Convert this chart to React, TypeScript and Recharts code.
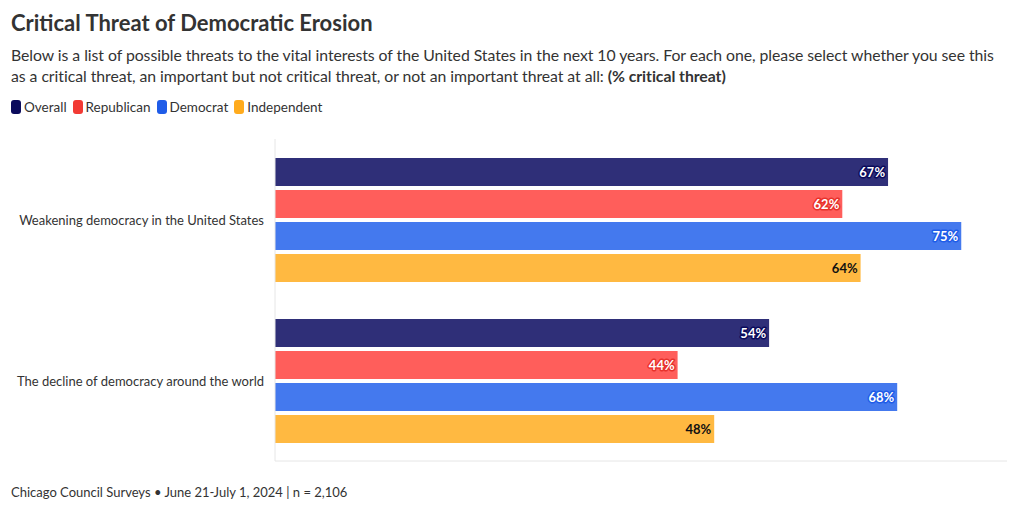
import { Bar, BarChart, LabelList, XAxis, YAxis } from "recharts";

const categories = [
  "Weakening democracy in the United States",
  "The decline of democracy around the world",
];
const overall = [67, 54];
const republican = [62, 44];
const democrat = [75, 68];
const independent = [64, 48];

const series = [
  { key: "overall", name: "Overall", fill: "#2f2f78", swatch: "#0b0b5c", text: "#fff", halo: "#0b0b5c" },
  { key: "republican", name: "Republican", fill: "#ff5e5b", swatch: "#f23a34", text: "#fff", halo: "#e8322c" },
  { key: "democrat", name: "Democrat", fill: "#4479ee", swatch: "#1f5ce8", text: "#fff", halo: "#1f5ce8" },
  { key: "independent", name: "Independent", fill: "#ffb941", swatch: "#ffab1d", text: "#111", halo: "none" },
];

const data = categories.map((name, i) => ({
  name,
  overall: overall[i],
  republican: republican[i],
  democrat: democrat[i],
  independent: independent[i],
}));

const font = "'Source Sans Pro', Lato, 'Noto Sans', sans-serif";

function makeLabel(text: string, halo: string) {
  return (props: any) => {
    const { x, y, width, height, value } = props;
    return (
      <text
        x={x + width - 3}
        y={y + height / 2}
        textAnchor="end"
        dominantBaseline="central"
        fontFamily={font}
        fontSize={13}
        fontWeight={700}
        fill={text}
        stroke={halo}
        strokeWidth={halo === "none" ? 0 : 3}
        strokeLinejoin="round"
        paintOrder="stroke"
      >
        {value}%
      </text>
    );
  };
}

function CategoryTick(props: any) {
  const { x, y, payload } = props;
  return (
    <text
      x={x}
      y={y}
      textAnchor="end"
      dominantBaseline="central"
      fontFamily={font}
      fontSize={13}
      fill="#333"
    >
      {payload.value}
    </text>
  );
}

export default function App() {
  return (
    <div
      style={{
        position: "fixed",
        left: 0,
        top: 0,
        width: 1020,
        height: 511,
        background: "#fff",
        fontFamily: font,
        color: "#333",
        overflow: "hidden",
      }}
    >
      <div style={{ position: "absolute", left: 11, top: 9, fontSize: 22, fontWeight: 700, whiteSpace: "nowrap" }}>
        Critical Threat of Democratic Erosion
      </div>
      <div
        style={{
          position: "absolute",
          left: 11,
          top: 44,
          fontSize: 15.8,
          lineHeight: "21px",
          whiteSpace: "nowrap",
          letterSpacing: -0.05,
        }}
      >
        Below is a list of possible threats to the vital interests of the United States in the next 10 years. For each one, please select whether you see this
        <br />
        as a critical threat, an important but not critical threat, or not an important threat at all: <b>(% critical threat)</b>
      </div>
      <div style={{ position: "absolute", left: 11, top: 99, display: "flex", alignItems: "center", fontSize: 13.5 }}>
        {series.map((s) => (
          <div key={s.key} style={{ display: "flex", alignItems: "center", marginRight: 6 }}>
            <span
              style={{
                display: "inline-block",
                width: 10,
                height: 14,
                borderRadius: 3,
                background: s.swatch,
                marginRight: 3,
              }}
            />
            {s.name}
          </div>
        ))}
      </div>
      <div style={{ position: "absolute", left: 11, top: 484, fontSize: 13 }}>
        Chicago Council Surveys • June 21-July 1, 2024 | n = 2,106
      </div>
      <div style={{ position: "absolute", left: 0, top: 0 }}>
        <BarChart
          width={1020}
          height={511}
          data={data}
          layout="vertical"
          margin={{ top: 139, right: 13, bottom: 49, left: 0 }}
          barSize={28}
          barGap={4}
          barCategoryGap={18}
        >
          <XAxis
            type="number"
            domain={[0, 80]}
            allowDataOverflow
            tick={false}
            tickLine={false}
            height={1}
            axisLine={{ stroke: "#e6e6e6" }}
          />
          <YAxis
            type="category"
            dataKey="name"
            width={275}
            axisLine={{ stroke: "#e6e6e6" }}
            tickLine={false}
            tickSize={0}
            tickMargin={11}
            tick={<CategoryTick />}
          />
          {series.map((s) => (
            <Bar key={s.key} dataKey={s.key} name={s.name} fill={s.fill} isAnimationActive={false}>
              <LabelList dataKey={s.key} content={makeLabel(s.text, s.halo)} />
            </Bar>
          ))}
        </BarChart>
      </div>
    </div>
  );
}
